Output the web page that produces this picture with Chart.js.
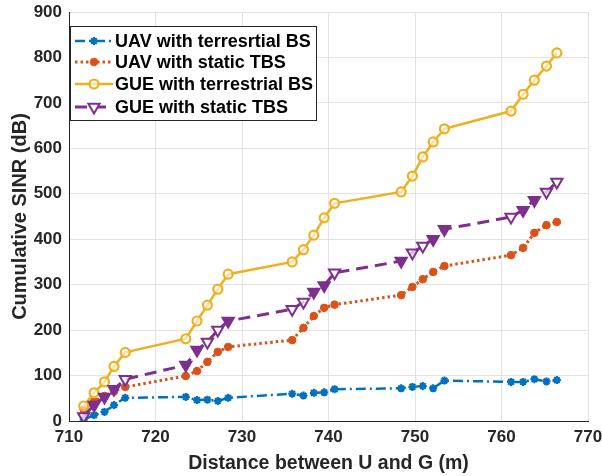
<!DOCTYPE html>
<html>
<head>
<meta charset="utf-8">
<script src="https://cdn.jsdelivr.net/npm/chart.js@4.4.1/dist/chart.umd.min.js"></script>
<style>
  html, body { margin: 0; padding: 0; background: #ffffff; }
  #wrap { width: 602px; height: 476px; position: relative; }
</style>
</head>
<body>
<div id="wrap"><canvas id="sinr-chart" width="602" height="476"></canvas></div>
<script>
// distance between U and G (m), shared by all four curves
const distance = [711.7, 712.9, 714.1, 715.2, 716.5, 723.5, 724.8, 726.0, 727.2, 728.4,
                  735.8, 737.1, 738.3, 739.5, 740.7, 748.4, 749.7, 750.9, 752.1, 753.4,
                  761.1, 762.5, 763.8, 765.2, 766.4];

// cumulative SINR (dB)
const uavTerrestrial = [3, 13, 20, 35, 51, 53, 46, 47, 44, 51,
                        60, 56, 62, 63, 70, 72, 75, 77, 72, 89,
                        86, 86, 92, 87, 90];
const uavStaticTbs = [25, 43, 55, 65, 75, 99, 110, 130, 152, 163,
                      178, 205, 231, 249, 256, 277, 295, 312, 328, 341,
                      365, 381, 414, 431, 438];
const gueTerrestrial = [33, 62, 86, 120, 151, 181, 220, 255, 290, 323,
                        350, 377, 409, 447, 479, 504, 539, 581, 614, 643,
                        682, 719, 750, 781, 810];
const gueStaticTbs = [10, 35, 53, 70, 92, 123, 156, 174, 200, 220,
                      246, 262, 284, 298, 326, 352, 370, 385, 400, 422,
                      449, 464, 486, 504, 526];

const seriesNames = ['UAV with terresrtial BS', 'UAV with static TBS',
                     'GUE with terrestrial BS', 'GUE with static TBS'];

const xTicks = [710, 720, 730, 740, 750, 760, 770];
const yTicks = [0, 100, 200, 300, 400, 500, 600, 700, 800, 900];

// MATLAB default colours
const BLUE = '#0072BD', ORANGE = '#D95319', YELLOW = '#EDB120', PURPLE = '#7E2F8E';
const FONT = '"Liberation Sans", Arial, Helvetica, sans-serif';

// some of the triangles render filled in the original picture
const triSolid = [0,1,1,1,0, 1,1,0,0,1, 0,0,1,1,0, 1,0,0,1,1, 0,1,1,0,0];

function toPoints(values) {
    return values.map((v, i) => ({ x: distance[i], y: v }));
}

const datasets = [
    {
        label: seriesNames[0],
        data: toPoints(uavTerrestrial),
        borderColor: BLUE,
        backgroundColor: BLUE,
        borderWidth: 2.5,
        borderDash: [10, 4, 2, 4],
        pointStyle: 'star',
        pointRadius: 4,
        pointBorderWidth: 2.2,
        pointBorderColor: BLUE,
        order: 3
    },
    {
        label: seriesNames[1],
        data: toPoints(uavStaticTbs),
        borderColor: ORANGE,
        backgroundColor: ORANGE,
        borderWidth: 3,
        borderDash: [2.5, 3],
        pointStyle: 'circle',
        pointRadius: 3.8,
        pointBorderWidth: 1,
        pointBackgroundColor: ORANGE,
        pointBorderColor: ORANGE,
        order: 2
    },
    {
        label: seriesNames[2],
        data: toPoints(gueTerrestrial),
        borderColor: YELLOW,
        backgroundColor: '#ffffff',
        borderWidth: 2.5,
        pointStyle: 'circle',
        pointRadius: 4.5,
        pointBorderWidth: 2.2,
        pointBackgroundColor: 'rgba(255,255,255,0.6)',
        pointBorderColor: YELLOW,
        order: 1
    },
    {
        label: seriesNames[3],
        data: toPoints(gueStaticTbs),
        borderColor: PURPLE,
        backgroundColor: '#ffffff',
        borderWidth: 3,
        borderDash: [12, 7],
        pointStyle: 'triangle',
        pointRotation: 180,
        pointRadius: 6.5,
        pointBorderWidth: 2,
        pointBackgroundColor: triSolid.map(s => s ? PURPLE : 'rgba(255,255,255,0.7)'),
        pointBorderColor: PURPLE,
        order: 0
    }
];

// legend box drawn inside the plot, top-left, like the MATLAB one
const boxLegend = {
    id: 'boxLegend',
    afterDraw(chart) {
        const ctx = chart.ctx;
        const area = chart.chartArea;
        const left = area.left + 1, top = area.top + 14;
        const w = 246, h = 94;
        ctx.save();
        ctx.fillStyle = '#ffffff';
        ctx.fillRect(left, top, w, h);
        ctx.strokeStyle = '#262626';
        ctx.lineWidth = 1;
        ctx.strokeRect(left + 0.5, top + 0.5, w, h);
        ctx.font = 'bold 18px ' + FONT;
        ctx.textBaseline = 'middle';
        const rows = [15, 36, 58, 81];
        chart.data.datasets.forEach((ds, i) => {
            const y = top + rows[i];
            ctx.save();
            ctx.strokeStyle = ds.borderColor;
            ctx.lineWidth = ds.borderWidth;
            ctx.setLineDash(ds.borderDash || []);
            ctx.beginPath();
            ctx.moveTo(left + 5, y);
            ctx.lineTo(left + 43, y);
            ctx.stroke();
            ctx.restore();
            ctx.save();
            ctx.fillStyle = ds.pointStyle === 'triangle' ? '#ffffff' : (Array.isArray(ds.pointBackgroundColor) ? '#ffffff' : ds.pointBackgroundColor);
            ctx.strokeStyle = ds.pointBorderColor;
            ctx.lineWidth = ds.pointBorderWidth;
            Chart.helpers.drawPoint(ctx, {
                pointStyle: ds.pointStyle,
                rotation: ds.pointRotation || 0,
                radius: ds.pointRadius,
                borderWidth: ds.pointBorderWidth
            }, left + 24, y);
            ctx.restore();
            ctx.fillStyle = '#000000';
            ctx.fillText(ds.label, left + 45, y + 1);
        });
        ctx.restore();
    }
};

new Chart(document.getElementById('sinr-chart'), {
    type: 'scatter',
    data: { datasets: datasets },
    plugins: [boxLegend],
    options: {
        responsive: false,
        animation: false,
        showLine: true,
        layout: { padding: { left: 0, right: 14, top: 12, bottom: 0 } },
        plugins: {
            legend: { display: false },
            tooltip: { enabled: false }
        },
        elements: { line: { tension: 0, fill: false } },
        scales: {
            x: {
                type: 'linear',
                min: 710,
                max: 770,
                afterBuildTicks(scale) { scale.ticks = xTicks.map(v => ({ value: v })); },
                afterFit(scale) {
                    scale.height = 55;
                    scale.paddingLeft = 0;
                    scale.paddingRight = 0;
                },
                grid: { color: '#e3e3e3', lineWidth: 1, drawTicks: false },
                border: { color: '#262626', width: 1 },
                ticks: {
                    color: '#262626',
                    padding: 6,
                    maxRotation: 0,
                    font: { family: FONT, size: 17, weight: 'bold' }
                },
                title: {
                    display: true,
                    text: 'Distance between U and G (m)',
                    color: '#262626',
                    padding: { top: 2, bottom: 1 },
                    font: { family: FONT, size: 19.5, weight: 'bold' }
                }
            },
            y: {
                type: 'linear',
                min: 0,
                max: 900,
                afterBuildTicks(scale) { scale.ticks = yTicks.map(v => ({ value: v })); },
                afterFit(scale) {
                    scale.width = 69;
                    scale.paddingTop = 0;
                    scale.paddingBottom = 0;
                },
                grid: { color: '#e3e3e3', lineWidth: 1, drawTicks: false },
                border: { color: '#262626', width: 1 },
                ticks: {
                    color: '#262626',
                    padding: 7,
                    font: { family: FONT, size: 17, weight: 'bold' }
                },
                title: {
                    display: true,
                    text: 'Cumulative SINR (dB)',
                    color: '#262626',
                    padding: { top: 8, bottom: 0 },
                    font: { family: FONT, size: 20, weight: 'bold' }
                }
            }
        }
    }
});
</script>
</body>
</html>
